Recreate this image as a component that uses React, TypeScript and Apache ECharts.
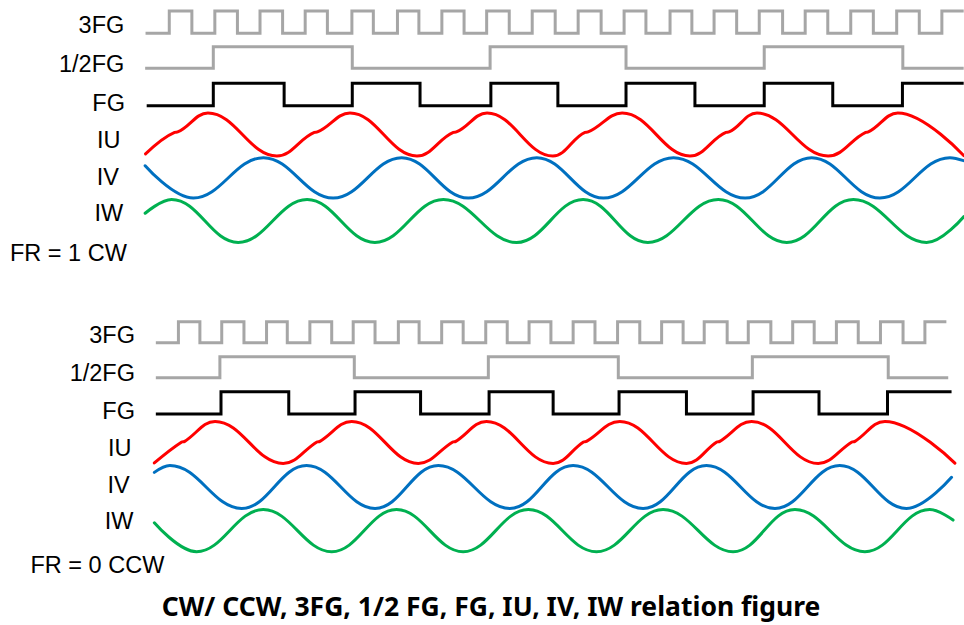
import React, { useEffect, useRef } from "react";
import * as echarts from "echarts";

// Time axis: electrical degrees (one FG period = 360°)

// ---------- FR = 1 (CW) ----------
const cwSpan3fg = [-177, 1960];
const cw3fgEdges = [-115, -56, 4, 63, 122, 181, 240, 298, 362, 418, 481, 537, 597, 655, 714, 773, 833, 893, 953, 1013, 1073, 1130, 1193, 1250, 1308, 1367, 1426, 1487, 1546, 1605, 1665, 1724, 1785, 1844, 1903];
const cwSpanHalfFg = [-178, 1960];
const cwHalfFgEdges = [0, 363, 723, 1078, 1439, 1801];
const cwSpanFg = [-174, 1960];
const cwFgEdges = [0, 185, 363, 540, 725, 900, 1078, 1258, 1439, 1618, 1800];
// [time, normalized current]
const cwIU = [[-177, -0.9], [-101, 0.1], [-93, 0.12], [-14, 1], [166, -1], [264, 0.1], [272, 0.12], [357, 1], [532, -1], [627, 0.1], [635, 0.12], [715, 1], [887, -1], [971, 0.1], [979, 0.12], [1068, 1], [1245, -1], [1339, 0.1], [1347, 0.12], [1420, 1], [1606, -1], [1704, 0.1], [1711, 0.12], [1788, 1], [1960, -0.98]];
const cwIV = [[-178, 0.6], [-52, -1], [131, 1], [313, -1], [492, 1], [666, -1], [845, 1], [1019, -1], [1202, 1], [1389, -1], [1563, 1], [1741, -1], [1924, 1], [1960, 0.85]];
const cwIW = [[-178, 0.36], [-109, 1], [65, -1], [245, 1], [422, -1], [601, 1], [792, -1], [966, 1], [1135, -1], [1319, 1], [1498, -1], [1672, 1], [1863, -1], [1960, 0.2]];

// ---------- FR = 0 (CCW) ----------
const ccwSpan3fg = [-176, 1959];
const ccw3fgEdges = [-115, -57, 2, 62, 123, 179, 240, 299, 357, 416, 479, 535, 596, 654, 715, 773, 832, 891, 951, 1010, 1071, 1131, 1190, 1248, 1305, 1367, 1424, 1485, 1544, 1602, 1662, 1721, 1781, 1842, 1901];
const ccwSpanHalfFg = [-176, 1964];
const ccwHalfFgEdges = [-3, 360, 722, 1073, 1435, 1802];
const ccwSpanFg = [-176, 1973];
const ccwFgEdges = [0, 183, 362, 539, 724, 897, 1075, 1257, 1437, 1615, 1800];
const ccwIU = [[-180, -0.98], [-106, 0.02], [-98, 0.05], [-16, 1], [168, -1], [259, 0.02], [267, 0.05], [353, 1], [533, -1], [626, 0.02], [634, 0.05], [717, 1], [897, -1], [979, 0.02], [987, 0.05], [1077, 1], [1257, -1], [1339, 0.02], [1347, 0.05], [1433, 1], [1613, -1], [1704, 0.02], [1712, 0.05], [1793, 1], [1982, -0.99]];
const ccwIV = [[-180, 0.68], [-138, 1], [56, -1], [231, 1], [416, -1], [587, 1], [780, -1], [951, 1], [1140, -1], [1311, 1], [1496, -1], [1671, 1], [1851, -1], [1973, 0.45]];
const ccwIW = [[-180, 0.37], [-66, -1], [114, 1], [299, -1], [474, 1], [654, -1], [830, 1], [1014, -1], [1194, 1], [1383, -1], [1550, 1], [1739, -1], [1914, 1], [1977, 0.5]];

const signalNames = ["3FG", "1/2FG", "FG", "IU", "IV", "IW"];
const panelTitles = ["FR = 1 CW", "FR = 0 CCW"];
const caption = "CW/ CCW, 3FG, 1/2 FG, FG, IU, IV, IW relation figure";

const GRAY = "#a6a6a6";
const BLACK = "#000000";
const RED = "#ff0000";
const BLUE = "#0070c0";
const GREEN = "#00b050";

function digitalPoints(span: number[], edges: number[], hi: number, lo: number) {
  let lvl = 0;
  const y = (l: number) => lo + (hi - lo) * l;
  const pts: number[][] = [[span[0], y(lvl)]];
  edges.forEach((e) => {
    pts.push([e, y(lvl)]);
    lvl = 1 - lvl;
    pts.push([e, y(lvl)]);
  });
  pts.push([span[1], y(lvl)]);
  return pts;
}

function analogPoints(pts: number[][], mid: number, amp: number) {
  return pts.map(([t, v]) => [t, mid - amp * v]);
}

export default function App() {
  const ref = useRef<HTMLDivElement>(null);
  useEffect(() => {
    if (!ref.current) return;
    const chart = echarts.init(ref.current, undefined, { renderer: "svg" });

    const lanes = [
      {
        d: [
          { hi: 11, lo: 33.3 },
          { hi: 46.7, lo: 68.3 },
          { hi: 83.3, lo: 105.7 },
        ],
        a: [
          { mid: 134.5, amp: 21.5 },
          { mid: 177.85, amp: 20.2 },
          { mid: 221, amp: 21.5 },
        ],
      },
      {
        d: [
          { hi: 321.7, lo: 342.7 },
          { hi: 356.7, lo: 377.7 },
          { hi: 391.7, lo: 414 },
        ],
        a: [
          { mid: 442.4, amp: 21 },
          { mid: 487, amp: 21.5 },
          { mid: 530.6, amp: 21.1 },
        ],
      },
    ];

    const panels = [
      {
        dig: [
          [cwSpan3fg, cw3fgEdges],
          [cwSpanHalfFg, cwHalfFgEdges],
          [cwSpanFg, cwFgEdges],
        ],
        ana: [cwIU, cwIV, cwIW],
      },
      {
        dig: [
          [ccwSpan3fg, ccw3fgEdges],
          [ccwSpanHalfFg, ccwHalfFgEdges],
          [ccwSpanFg, ccwFgEdges],
        ],
        ana: [ccwIU, ccwIV, ccwIW],
      },
    ];

    const digColors = [GRAY, GRAY, BLACK];
    const anaColors = [RED, BLUE, GREEN];
    const series: any[] = [];
    panels.forEach((p, pi) => {
      p.dig.forEach(([span, edges], i) => {
        series.push({
          type: "line",
          name: signalNames[i],
          xAxisIndex: pi,
          yAxisIndex: pi,
          data: digitalPoints(span as number[], edges as number[], lanes[pi].d[i].hi, lanes[pi].d[i].lo),
          showSymbol: false,
          symbol: "none",
          clip: false,
          silent: true,
          lineStyle: { color: digColors[i], width: 3, join: "miter", cap: "butt" },
        });
      });
      p.ana.forEach((pts, i) => {
        series.push({
          type: "line",
          name: signalNames[3 + i],
          xAxisIndex: pi,
          yAxisIndex: pi,
          data: analogPoints(pts, lanes[pi].a[i].mid, lanes[pi].a[i].amp),
          smooth: 0.4,
          showSymbol: false,
          symbol: "none",
          clip: false,
          silent: true,
          lineStyle: { color: anaColors[i], width: 3, join: "round", cap: "round" },
        });
      });
    });

    const labelFont = "'Liberation Sans', Arial, sans-serif";
    const labelSpec = [
      { rights: [124.3, 124.3, 125, 120.5, 119, 123.3], ys: [25, 63.8, 103, 140, 176.7, 213.3], titleX: 10, titleY: 253 },
      { rights: [135, 135, 135, 131.5, 129.7, 133.4], ys: [335, 373.3, 411.3, 448.3, 484.7, 520.8], titleX: 30.5, titleY: 565 },
    ];
    const graphics: any[] = [];
    labelSpec.forEach((ls, pi) => {
      signalNames.forEach((n, i) => {
        graphics.push({
          type: "text",
          x: ls.rights[i],
          y: ls.ys[i],
          silent: true,
          style: { text: n, fontSize: 23.5, fontFamily: labelFont, fill: "#000", align: "right", verticalAlign: "middle" },
        });
      });
      graphics.push({
        type: "text",
        x: ls.titleX,
        y: ls.titleY,
        silent: true,
        style: { text: panelTitles[pi], fontSize: 23.5, fontFamily: labelFont, fill: "#000", align: "left", verticalAlign: "middle" },
      });
    });
    graphics.push({
      type: "text",
      x: 491,
      y: 606,
      silent: true,
      style: { text: caption, fontSize: 26.5, fontWeight: "bold", fontFamily: "'Noto Sans', 'Open Sans', sans-serif", fill: "#000", align: "center", verticalAlign: "middle" },
    });

    chart.setOption({
      animation: false,
      backgroundColor: "#ffffff",
      grid: [
        { left: 144.39, top: 0, width: 819.3, height: 625 },
        { left: 154.35, top: 0, width: 801.65, height: 625 },
      ],
      xAxis: [
        { type: "value", gridIndex: 0, min: -180, max: 1960, show: false },
        { type: "value", gridIndex: 1, min: -180, max: 1985, show: false },
      ],
      yAxis: [
        { type: "value", gridIndex: 0, min: 0, max: 625, inverse: true, show: false },
        { type: "value", gridIndex: 1, min: 0, max: 625, inverse: true, show: false },
      ],
      series,
      graphic: graphics,
    });
    return () => chart.dispose();
  }, []);
  return <div ref={ref} style={{ position: "absolute", left: 0, top: 0, width: 964, height: 625 }} />;
}
